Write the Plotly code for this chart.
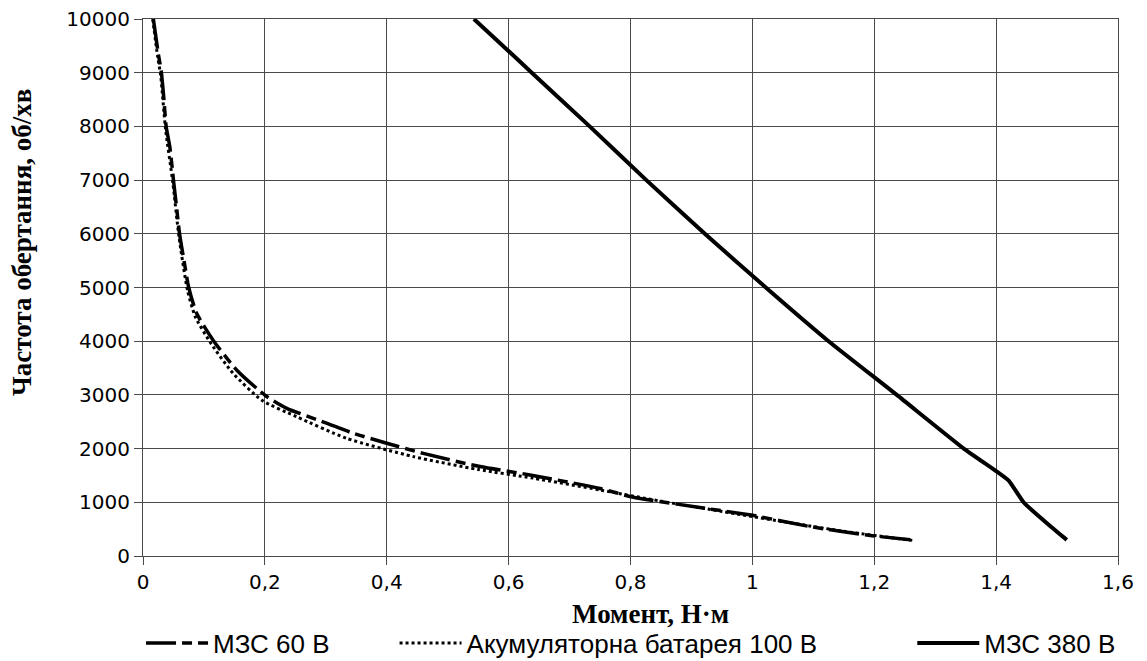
import plotly.graph_objects as go

# ---- data ----
torque_60 = [0.017, 0.025, 0.030, 0.034, 0.038, 0.044, 0.050, 0.055, 0.060, 0.068, 0.075, 0.088,
             0.115, 0.154, 0.203, 0.236, 0.300, 0.345, 0.400, 0.460, 0.553, 0.635, 0.750, 0.803,
             0.924, 0.998, 1.096, 1.188, 1.263]
speed_60 = [10000, 9360, 9020, 8550, 8000, 7620, 7000, 6500, 6000, 5450, 5000, 4520,
            4020, 3460, 2970, 2750, 2480, 2285, 2100, 1910, 1665, 1510, 1257, 1100,
            885, 762, 545, 390, 297]

torque_bat = [0.016, 0.024, 0.029, 0.037, 0.049, 0.059, 0.073, 0.086, 0.112, 0.148, 0.195,
              0.252, 0.334, 0.444, 0.550, 0.640, 0.750, 0.850, 0.950, 1.050, 1.150, 1.263]
speed_bat = [10000, 9300, 8950, 7950, 6950, 5950, 4950, 4450, 3950, 3400, 2900,
             2594, 2191, 1850, 1610, 1450, 1230, 1020, 830, 640, 460, 290]

torque_380 = [0.543, 0.586, 0.638, 0.733, 0.826, 0.922, 1.022, 1.125, 1.237, 1.347,
              1.400, 1.421, 1.445, 1.490, 1.516]
speed_380 = [10000, 9550, 9000, 8000, 7000, 6000, 5000, 4000, 3000, 2000,
             1580, 1400, 1000, 545, 300]

names = ["МЗС 60 В", "Акумуляторна батарея 100 В", "МЗС 380 В"]

x_tickvals = [0, 0.2, 0.4, 0.6, 0.8, 1.0, 1.2, 1.4, 1.6]
x_ticktext = ["0", "0,2", "0,4", "0,6", "0,8", "1", "1,2", "1,4", "1,6"]
y_tickvals = [0, 1000, 2000, 3000, 4000, 5000, 6000, 7000, 8000, 9000, 10000]
y_ticktext = [str(v) for v in y_tickvals]

x_title = "Момент, Н·м"
y_title = "Частота обертання, об/хв"

fig = go.Figure()
fig.add_trace(go.Scatter(x=torque_60, y=speed_60, mode="lines", name=names[0], legend="legend",
                         line=dict(color="black", width=3.5, dash="30px,6px,10px,6px",
                                   shape="spline", smoothing=0.6)))
fig.add_trace(go.Scatter(x=torque_bat, y=speed_bat, mode="lines", name=names[1], legend="legend2",
                         line=dict(color="black", width=3, dash="3px,3px",
                                   shape="spline", smoothing=0.6)))
fig.add_trace(go.Scatter(x=torque_380, y=speed_380, mode="lines", name=names[2], legend="legend3",
                         line=dict(color="black", width=4, shape="spline", smoothing=0.4)))

axis_common = dict(showgrid=True, gridcolor="#4a4a4a", gridwidth=1.2,
                   showline=True, linecolor="#4a4a4a", linewidth=1.2, mirror=True,
                   ticks="outside", ticklen=8, tickcolor="#4a4a4a", tickwidth=1.2,
                   zeroline=False, automargin=False,
                   tickfont=dict(family="DejaVu Sans", size=20, color="black"))

fig.update_xaxes(range=[0, 1.6], tickmode="array", tickvals=x_tickvals, ticktext=x_ticktext,
                 **axis_common)
fig.update_yaxes(range=[0, 10000], tickmode="array", tickvals=y_tickvals, ticktext=y_ticktext,
                 **axis_common)

fig.add_annotation(text=x_title, xref="paper", yref="paper", x=0.521, y=-0.108,
                   xanchor="center", yanchor="middle", showarrow=False,
                   font=dict(family="Liberation Serif", size=27, color="black", weight="bold"))
fig.add_annotation(text=y_title, xref="paper", yref="paper", x=-0.124, y=0.583,
                   xanchor="center", yanchor="middle", showarrow=False, textangle=-90,
                   font=dict(family="Liberation Serif", size=27, color="black", weight="bold"))

leg_font = dict(family="Liberation Sans", size=26, color="black")
leg_common = dict(orientation="h", yanchor="middle", y=-0.162, xanchor="left",
                  font=leg_font, itemwidth=62, bgcolor="rgba(0,0,0,0)")

fig.update_layout(
    width=1147, height=661,
    margin=dict(l=143, r=29, t=19, b=105, autoexpand=False),
    plot_bgcolor="white", paper_bgcolor="white",
    showlegend=True,
    legend=dict(x=-0.002, **leg_common),
    legend2=dict(x=0.258, **leg_common),
    legend3=dict(x=0.789, **leg_common),
)

fig.write_html("out.html", config={"displayModeBar": False},
               post_script="document.body.style.margin='0';document.body.style.overflow='hidden';")
